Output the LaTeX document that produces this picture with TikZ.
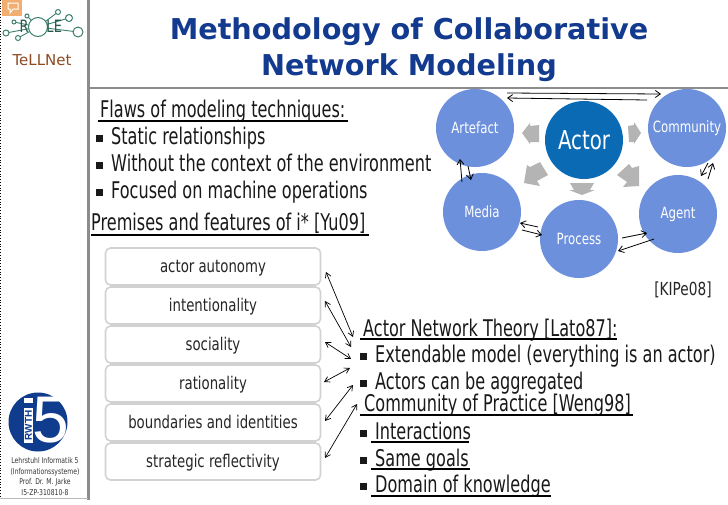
\documentclass[tikz,border=0pt]{standalone}
\usepackage{fontspec}
\setmainfont{DejaVu Sans}
\newfontfamily\bodyf[FakeStretch=0.70]{DejaVu Sans}
\newfontfamily\smallf[FakeStretch=0.76]{DejaVu Sans}
\newfontfamily\titlef{DejaVu Sans Bold}
\newfontfamily\heavyf{Liberation Sans}
\usetikzlibrary{arrows.meta}
\definecolor{titleblue}{HTML}{123A8F}
\definecolor{circblue}{HTML}{6C90DC}
\definecolor{actorblue}{HTML}{0A6AB4}
\definecolor{framegray}{HTML}{8C8C8C}
\definecolor{wedgegray}{HTML}{B4B4B4}
\definecolor{boxgray}{HTML}{D2D2D2}
\definecolor{rwthblue}{HTML}{0F3C8C}
\definecolor{roleteal}{HTML}{3C7F6E}
\definecolor{rolebrown}{HTML}{8E4A22}
\definecolor{roleorange}{HTML}{F2AE70}
\newcommand{\blt}{\makebox[15pt][l]{\raisebox{2.5pt}{\rule{7pt}{7pt}}}}
\tikzset{
  x=1pt,y=-1pt,
  titletext/.style={font=\titlef\fontsize{28.7}{29}\selectfont,text=titleblue,anchor=center},
  bodytext/.style={font=\bodyf\fontsize{23}{23}\selectfont,anchor=base west,inner sep=0pt,text=black!90},
  rule/.style={draw=black,line width=1.3pt},
  concept/.style={circle,fill=circblue,minimum size=78pt,inner sep=0pt,text=white,font=\smallf\fontsize{15.5}{16}\selectfont},
  actorc/.style={circle,fill=actorblue,minimum size=78pt,inner sep=0pt,text=white,font=\smallf\fontsize{26}{26}\selectfont},
  wedge/.style={fill=wedgegray,draw=none},
  link/.style={-{Straight Barb[length=5pt,width=7pt]},line width=0.8pt,black},
  biglink/.style={{Straight Barb[length=5pt,width=6pt]}-{Straight Barb[length=5pt,width=6pt]},line width=0.7pt,black},
  fbox/.style={draw=boxgray,line width=1.6pt,rounded corners=5pt,fill=white,minimum width=215pt,minimum height=37pt,inner sep=0pt,text height=11pt,text depth=0pt,font=\smallf\fontsize{17.5}{18}\selectfont,text=black!85},
  smalltxt/.style={font=\smallf\fontsize{8}{9}\selectfont,anchor=center,inner sep=0pt,text=black!80},
  netline/.style={draw=roleteal,line width=0.9pt},
  netdot/.style={draw=roleteal,line width=1pt,fill=white},
  logotxt/.style={font=\smallf\fontsize{17}{17}\selectfont,text=roleteal!70!black,inner sep=0pt},
}
\begin{document}
\begin{tikzpicture}
\useasboundingbox (0,0) rectangle (728,504);
\fill[white] (0,0) rectangle (728,504);
% frame
\draw[framegray,line width=3pt] (88.5,0) -- (88.5,500);
\draw[framegray,line width=2pt] (90,88) -- (728,88);
\draw[black,dotted,line width=0.8pt] (0.5,0) -- (0.5,498);
\draw[framegray!60,line width=1pt] (0,498) -- (88,498);
% ROLE logo
\fill[roleorange] (2,0) rectangle (22,16);
\draw[white,line width=1pt] (8,3) -- (18,3) -- (18,9) -- (13,9) -- (10,13) -- (10,9) -- (8,9) -- cycle;
\draw[netline] (38,27) -- (58,12) (38,27) -- (69,18) (38,27) -- (78,32) (38,27) -- (27,16) (38,27) -- (14,22) (38,27) -- (6,33) (38,27) -- (18,38);
\foreach \px/\py/\pr in {78/32/5,69/18/3.5,58/12/2.5,27/16/2,14/22/2,6/33/3,18/38/2.5}
  \draw[netdot] (\px,\py) circle (\pr);
\draw[netdot,fill=white] (38,27) circle (9.5);
\node[logotxt] (logoR) at (24,26) {R};
\node[logotxt] (logoL) at (50,26) {L};
\node[logotxt] (logoE) at (58,26) {E};
\node[font=\fontsize{15}{15}\selectfont,text=rolebrown,inner sep=0pt] (tellnet) at (42,60) {TeLLNet};
% RWTH logo
\fill[rwthblue] (38,422) circle (29.5);
\fill[white] (23.5,398) rectangle (33,403);
\fill[white] (24,408) rectangle (33,443);
\node[rotate=90,font=\heavyf\bfseries\fontsize{10}{10}\selectfont,text=rwthblue,inner sep=0pt] (rwth) at (28.5,425.5) {RWTH};
\node[font=\heavyf\fontsize{66}{66}\selectfont,text=white,inner sep=0pt] (five) at (51,420) {5};
\node[smalltxt] (l1) at (45,461) {Lehrstuhl Informatik 5};
\node[smalltxt] (l2) at (45,472) {(Informationssysteme)};
\node[smalltxt] (l3) at (45,482) {Prof. Dr. M. Jarke};
\node[smalltxt] (l4) at (45,493) {I5-ZP-310810-8};
% title
\node[titletext] (t1) at (409,32) {Methodology of Collaborative};
\node[titletext] (t2) at (409,68) {Network Modeling};
% left text
\node[bodytext] (flaws) at (100,117) {Flaws of modeling techniques:};
\draw[rule] (98,121) -- (348,121);
\node[bodytext] (b1) at (96,144) {\blt Static relationships};
\node[bodytext] (b2) at (96,171) {\blt Without the context of the environment};
\node[bodytext] (b3) at (96,198) {\blt Focused on machine operations};
\node[bodytext] (prem) at (91,230) {Premises and features of i* [Yu09]};
\draw[rule] (91,235) -- (369,235);
% boxes
\node[fbox] (bx1) at (213,266.5) {actor autonomy};
\node[fbox] (bx2) at (213,305.5) {intentionality};
\node[fbox] (bx3) at (213,344.5) {sociality};
\node[fbox] (bx4) at (213,383.5) {rationality};
\node[fbox] (bx5) at (213,422.5) {boundaries and identities};
\node[fbox] (bx6) at (213,461.5) {strategic reflectivity};
% right text
\node[bodytext] (ant) at (363,336) {Actor Network Theory [Lato87]:};
\draw[rule] (360,339) -- (617,339);
\node[bodytext] (r1) at (360,362) {\blt Extendable model (everything is an actor)};
\node[bodytext] (r2) at (360,389) {\blt Actors can be aggregated};
\node[bodytext] (cop) at (364,411) {Community of Practice [Weng98]};
\draw[rule] (360,415) -- (633,415);
\node[bodytext] (r3) at (360,439) {\blt Interactions};
\draw[rule] (371,442) -- (469,442);
\node[bodytext] (r4) at (360,466) {\blt Same goals};
\draw[rule] (371,469) -- (470,469);
\node[bodytext] (r5) at (360,492) {\blt Domain of knowledge};
\draw[rule] (371,496) -- (551,496);
% group arrows
\coordinate (g1) at (326,272); \coordinate (h1) at (353,337);
\coordinate (g2) at (325,301); \coordinate (h2) at (351,347);
\coordinate (g3) at (325,342); \coordinate (h3) at (351,359);
\coordinate (g4) at (324,382); \coordinate (h4) at (350,368);
\coordinate (g5) at (325,421); \coordinate (h5) at (353,385);
\coordinate (g6) at (325,458); \coordinate (h6) at (357,404);
\foreach \i in {1,...,6} \draw[biglink] (g\i) -- (h\i);
% wedges
\fill[wedge] (522,133) -- (530,123) -- (530,126) -- (539,125) -- (539,142) -- (530,142) -- (530,144) -- cycle;
\fill[wedge] (628,126) -- (634,125) -- (634,122) -- (641,133) -- (634,144) -- (634,142) -- (629,142) -- cycle;
\fill[wedge] (524,183) -- (527,165) -- (530,167) -- (540,162) -- (548,175) -- (537,181) -- (540,186) -- cycle;
\fill[wedge] (617,175) -- (629,164) -- (632,168) -- (639,166) -- (639,186) -- (623,187) -- (627,182) -- cycle;
\fill[wedge] (570,183) -- (594,183) -- (590,190) -- (595,190) -- (582,195) -- (569,190) -- (574,190) -- cycle;
% circles
\node[concept] (artefact) at (475,128) {Artefact};
\node[actorc] (actor) at (584,140) {Actor};
\node[concept] (community) at (687,128) {Community};
\node[concept] (media) at (482,212) {Media};
\node[concept] (process) at (579,239) {Process};
\node[concept] (agent) at (678,214) {Agent};
% arrows between concepts
\coordinate (a1) at (507,93); \coordinate (a2) at (661,94);
\coordinate (a3) at (647,100); \coordinate (a4) at (507,98);
\coordinate (a5) at (462,182); \coordinate (a6) at (460,159);
\coordinate (a7) at (468,166); \coordinate (a8) at (471,180);
\coordinate (a9) at (708,163); \coordinate (a10) at (701,176);
\coordinate (a11) at (708,179); \coordinate (a12) at (713,163);
\coordinate (a13) at (538,227); \coordinate (a14) at (520,223);
\coordinate (a15) at (522,230); \coordinate (a16) at (542,235);
\coordinate (a17) at (622,238); \coordinate (a18) at (647,233);
\coordinate (a19) at (654,239); \coordinate (a20) at (618,251);
\draw[link] (a1) -- (a2);
\draw[link] (a3) -- (a4);
\draw[link] (a5) -- (a6);
\draw[link] (a7) -- (a8);
\draw[link] (a9) -- (a10);
\draw[link] (a11) -- (a12);
\draw[link] (a13) -- (a14);
\draw[link] (a15) -- (a16);
\draw[link] (a17) -- (a18);
\draw[link] (a19) -- (a20);
\node[font=\smallf\fontsize{18}{18}\selectfont,inner sep=0pt,text=black!85] (kip) at (683,290) {[KIPe08]};
\end{tikzpicture}
\end{document}
